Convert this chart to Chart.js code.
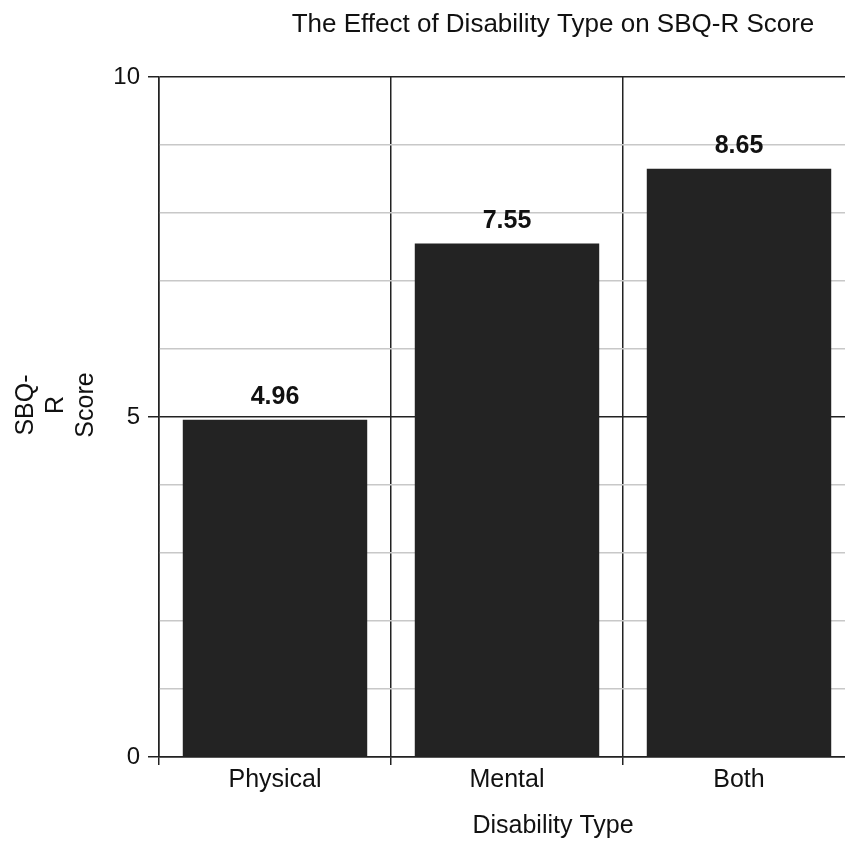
<!DOCTYPE html>
<html>
<head>
<meta charset="utf-8">
<script src="https://cdn.jsdelivr.net/npm/chart.js@4.4.1/dist/chart.umd.min.js"></script>
<style>
  html, body { margin: 0; padding: 0; background: #fff; overflow: hidden; }
  #wrap { width: 870px; height: 844px; }
</style>
</head>
<body>
<div id="wrap"><canvas id="c" width="870" height="844"></canvas></div>
<script>
const categories = ['Physical', 'Mental', 'Both'];
const scores = [4.96, 7.55, 8.65];
const valueLabels = ['4.96', '7.55', '8.65'];
const yTickLabels = [0, 5, 10];
const chartTitle = 'The Effect of Disability Type on SBQ-R Score';
const xAxisTitle = 'Disability Type';
const yAxisTitleLines = ['SBQ-', 'R', 'Score'];

const FONT = '"Liberation Sans", Arial, Helvetica, sans-serif';
const DARK = '#222222';
const LIGHT = '#c8c8c8';

const textPlugin = {
  id: 'texts',
  afterDraw(chart) {
    const ctx = chart.ctx;
    const meta = chart.getDatasetMeta(0);
    ctx.save();
    ctx.fillStyle = '#111';
    // value labels
    ctx.font = 'bold 25px ' + FONT;
    ctx.textAlign = 'center';
    ctx.textBaseline = 'alphabetic';
    meta.data.forEach((bar, i) => {
      ctx.fillText(valueLabels[i], bar.x, bar.y - 16);
    });
    // title
    ctx.font = '26px ' + FONT;
    ctx.fillText(chartTitle, 553, 32);
    // x axis title
    ctx.font = '25px ' + FONT;
    ctx.fillText(xAxisTitle, 553, 833);
    // y axis title
    const baseX = [33, 63, 93];
    yAxisTitleLines.forEach((line, i) => {
      ctx.save();
      ctx.translate(baseX[i], 405);
      ctx.rotate(-Math.PI / 2);
      ctx.fillText(line, 0, 0);
      ctx.restore();
    });
    ctx.restore();
  }
};

new Chart(document.getElementById('c'), {
  type: 'bar',
  data: {
    labels: categories,
    datasets: [{
      data: scores,
      backgroundColor: '#232323',
      borderColor: '#444',
      borderWidth: 0,
      barPercentage: 0.795,
      categoryPercentage: 1.0
    }]
  },
  options: {
    responsive: false,
    animation: false,
    events: [],
    layout: { padding: { top: 77, right: 15, left: 0, bottom: 0 } },
    plugins: {
      legend: { display: false },
      title: { display: false },
      tooltip: { enabled: false }
    },
    scales: {
      x: {
        offset: true,
        grid: {
          offset: true,
          color: DARK,
          lineWidth: 1.5,
          tickLength: 8,
          drawTicks: true
        },
        border: { display: true, color: DARK, width: 1.5 },
        ticks: {
          color: '#111',
          font: { family: FONT, size: 25 },
          padding: 0,
          maxRotation: 0
        },
        afterFit(s) { s.height = 87; }
      },
      y: {
        min: 0,
        max: 10,
        grid: {
          color: ctx => (ctx.tick && ctx.tick.value % 5 === 0) ? DARK : LIGHT,
          tickColor: ctx => (ctx.tick && ctx.tick.value % 5 === 0) ? DARK : 'rgba(0,0,0,0)',
          lineWidth: 1.5,
          tickLength: 11
        },
        border: { display: true, color: DARK, width: 1.5 },
        ticks: {
          stepSize: 1,
          autoSkip: false,
          padding: 8,
          color: '#111',
          font: { family: FONT, size: 24 },
          callback: v => yTickLabels.includes(v) ? String(v) : ''
        },
        afterFit(s) { s.width = 159; }
      }
    }
  },
  plugins: [textPlugin]
});
</script>
</body>
</html>
